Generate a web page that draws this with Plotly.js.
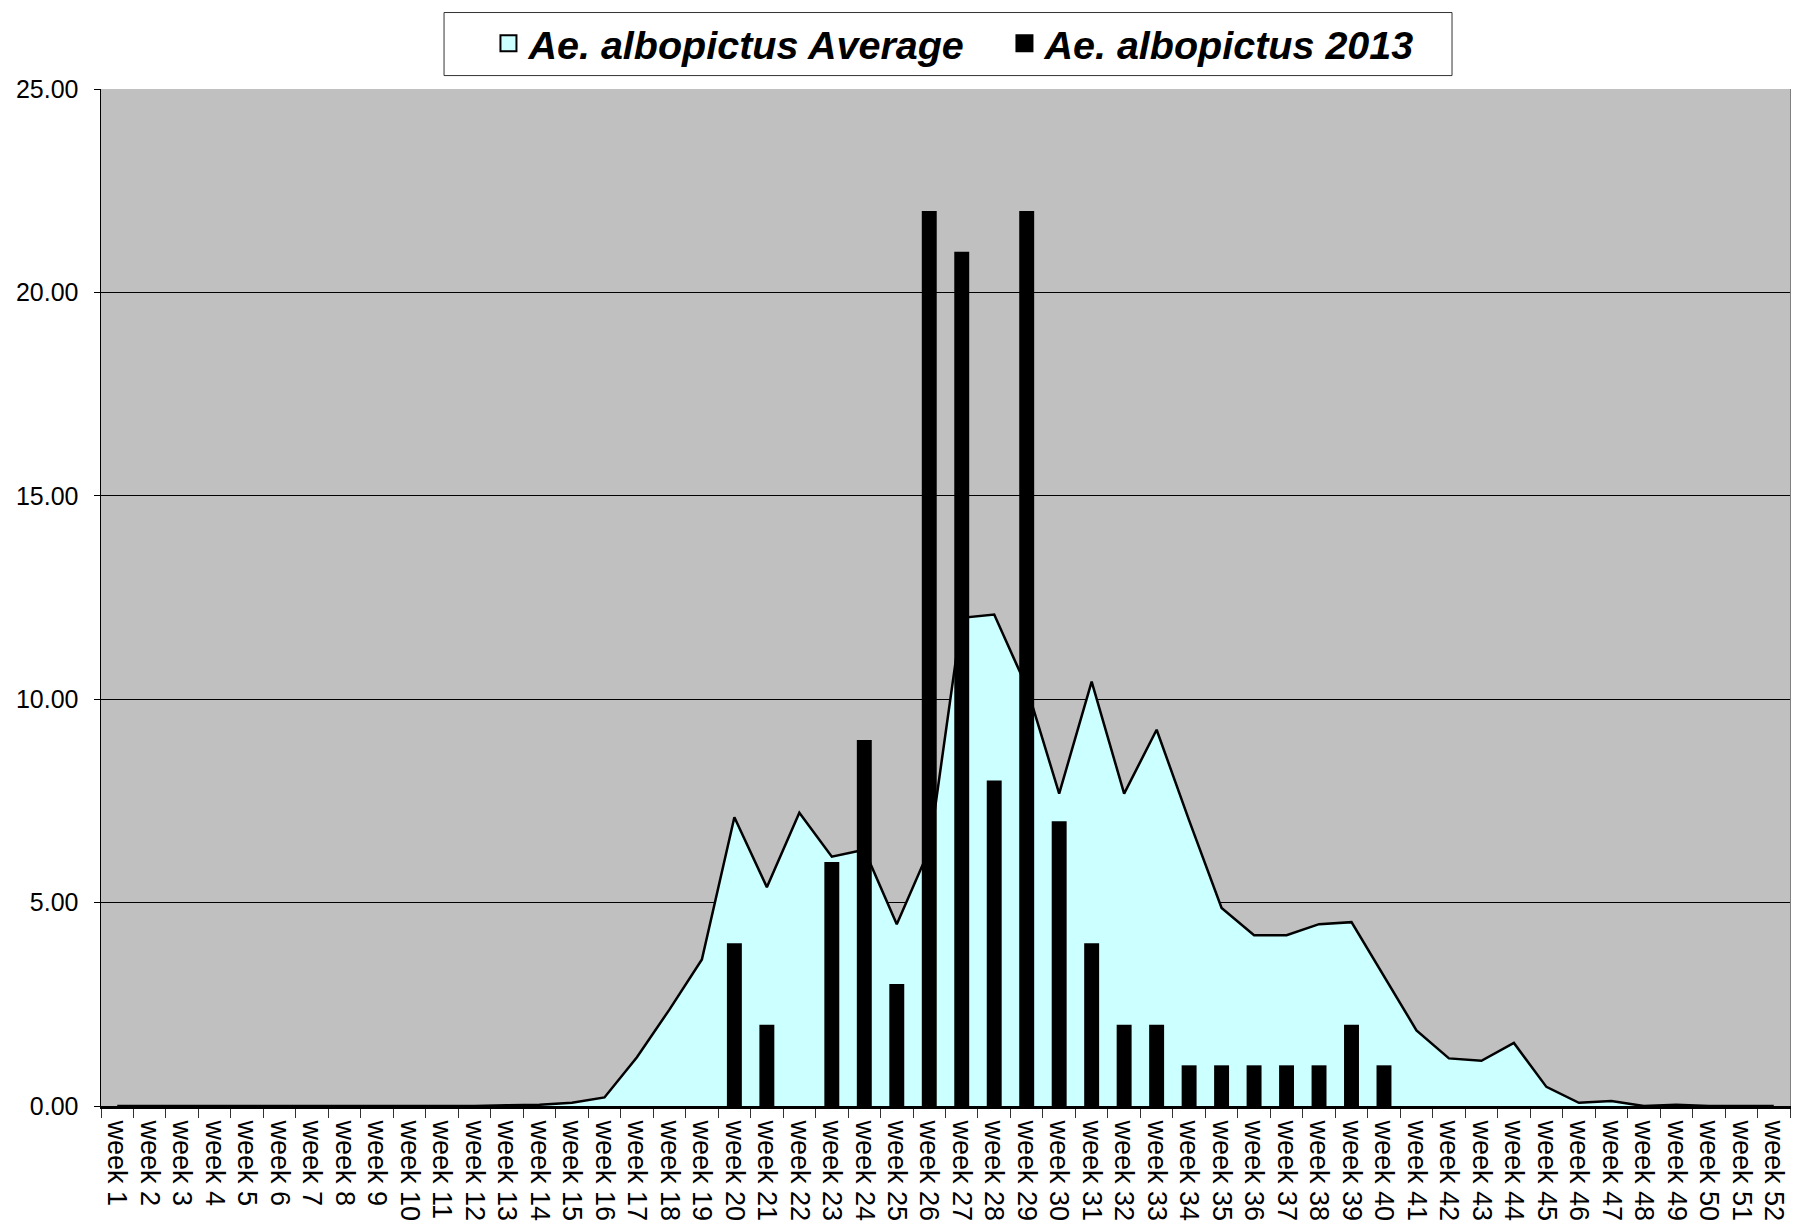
<!DOCTYPE html>
<html>
<head>
<meta charset="utf-8">
<script src="https://cdn.plot.ly/plotly-3.0.1.min.js"></script>
<style>html,body{margin:0;padding:0;background:#fff;}#chart{width:1796px;height:1225px;}</style>
</head>
<body>
<div id="chart"></div>
<script>
var weeks = ["week 1","week 2","week 3","week 4","week 5","week 6","week 7","week 8","week 9","week 10",
  "week 11","week 12","week 13","week 14","week 15","week 16","week 17","week 18","week 19","week 20",
  "week 21","week 22","week 23","week 24","week 25","week 26","week 27","week 28","week 29","week 30",
  "week 31","week 32","week 33","week 34","week 35","week 36","week 37","week 38","week 39","week 40",
  "week 41","week 42","week 43","week 44","week 45","week 46","week 47","week 48","week 49","week 50",
  "week 51","week 52"];

var averageValues = [0,0,0,0,0,0,0,0,0,0,
  0,0,0.02,0.03,0.08,0.21,1.2,2.37,3.6,7.1,
  5.38,7.21,6.13,6.3,4.47,6.3,12.0,12.08,10.3,7.68,
  10.43,7.68,9.25,7.02,4.87,4.2,4.2,4.47,4.52,3.2,
  1.86,1.17,1.11,1.55,0.47,0.08,0.12,0,0.03,0,
  0,0];

var values2013 = [0,0,0,0,0,0,0,0,0,0,
  0,0,0,0,0,0,0,0,0,4,
  2,0,6,9,3,22,21,8,22,7,
  4,2,2,1,1,1,1,1,2,1,
  0,0,0,0,0,0,0,0,0,0,
  0,0];

var seriesNames = ["Ae. albopictus Average", "Ae. albopictus 2013"];
var yTicks = [0,5,10,15,20,25];

var traces = [
  {
    type: "scatter", mode: "lines", x: weeks, y: averageValues,
    fill: "tozeroy", fillcolor: "#CCFFFF",
    line: {color: "#000000", width: 2.5},
    showlegend: false, xaxis: "x", yaxis: "y"
  },
  {
    type: "bar", x: weeks, y: values2013,
    marker: {color: "#000000"},
    showlegend: false, xaxis: "x", yaxis: "y2"
  },
  {
    type: "scatter", mode: "markers", x: [null], y: [null], name: seriesNames[0],
    marker: {symbol: "square", size: 16, color: "#CCFFFF", line: {color: "#000000", width: 2}},
    showlegend: true, xaxis: "x", yaxis: "y"
  },
  {
    type: "scatter", mode: "markers", x: [null], y: [null], name: seriesNames[1],
    marker: {symbol: "square", size: 16, color: "#000000", line: {color: "#000000", width: 2}},
    showlegend: true, xaxis: "x", yaxis: "y"
  }
];

var layout = {
  width: 1796, height: 1225,
  margin: {l: 101, r: 6, t: 89, b: 119, pad: 0},
  paper_bgcolor: "#FFFFFF",
  plot_bgcolor: "#C0C0C0",
  barmode: "overlay",
  bargap: 0.54,
  showlegend: true,
  legend: {
    orientation: "h", x: 0.2294, xanchor: "left", y: 1.0447, yanchor: "middle",
    bgcolor: "rgba(0,0,0,0)", borderwidth: 0,
    font: {family: "Liberation Sans, Arial, sans-serif", size: 39.5, color: "#000000", weight: "bold", style: "italic"},
    traceorder: "normal", entrywidth: 471, itemsizing: "trace"
  },
  shapes: [
    {type: "rect", xref: "paper", yref: "paper", x0: 0.2031, x1: 0.7999, y0: 1.0132, y1: 1.0752,
     fillcolor: "#FFFFFF", line: {color: "#333333", width: 1}, layer: "above"}
  ],
  xaxis: {
    type: "category", categoryorder: "array", categoryarray: weeks,
    range: [-0.5, 51.5],
    showgrid: false, zeroline: false,
    showline: true, linecolor: "#000000", linewidth: 3,
    ticks: "outside", ticklen: 9, tickwidth: 1, tickcolor: "#333333",
    tickson: "boundaries",
    tickangle: 90,
    ticklabelstandoff: 6,
    tickfont: {family: "Liberation Sans, Arial, sans-serif", size: 27, color: "#000000"},
    fixedrange: true
  },
  yaxis: {
    range: [0, 25], tickvals: yTicks, tickformat: ".2f",
    showgrid: true, gridcolor: "#000000", gridwidth: 1,
    zeroline: false,
    showline: true, linecolor: "#000000", linewidth: 1.5,
    ticks: "outside", ticklen: 6, tickcolor: "#000000",
    ticklabelstandoff: 10,
    tickfont: {family: "Liberation Sans, Arial, sans-serif", size: 25, color: "#000000"},
    fixedrange: true
  },
  yaxis2: {
    range: [0, 25], overlaying: "y", side: "right",
    showgrid: false, zeroline: false, showticklabels: false, ticks: "",
    showline: true, linecolor: "#808080", linewidth: 1,
    fixedrange: true
  }
};

Plotly.newPlot("chart", traces, layout, {displayModeBar: false, staticPlot: true});
</script>
</body>
</html>
